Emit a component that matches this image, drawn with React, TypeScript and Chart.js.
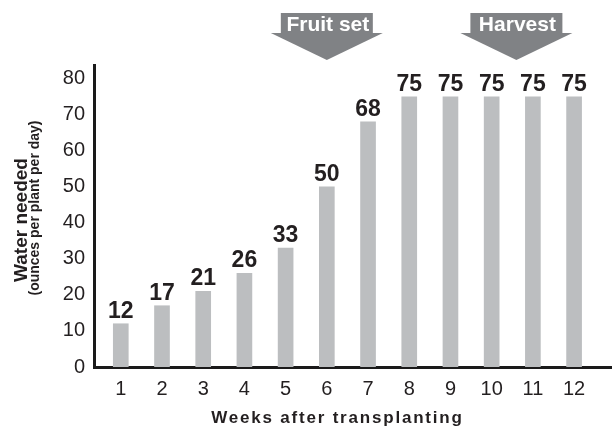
import React, { useEffect, useRef } from "react";
import { Chart, registerables } from "chart.js";

Chart.register(...registerables);

const weeks = [1, 2, 3, 4, 5, 6, 7, 8, 9, 10, 11, 12];
const water = [12, 17, 21, 26, 33, 50, 68, 75, 75, 75, 75, 75];
const yTicks = [0, 10, 20, 30, 40, 50, 60, 70, 80];
const stageLabels = ["Fruit set", "Harvest"];
const stageWeeks = [6, 10.6];

const xTitle = "Weeks after transplanting";
const yTitle = "Water needed";
const ySubTitle = "(ounces per plant per day)";

const FONT = "'Liberation Sans', Arial, Helvetica, sans-serif";
const INK = "#231f20";

export default function App() {
  const ref = useRef<HTMLCanvasElement | null>(null);

  useEffect(() => {
    const canvas = ref.current;
    if (!canvas) return;

    const overlay = {
      id: "overlay",
      afterDatasetsDraw(chart: any) {
        const ctx = chart.ctx;
        const meta = chart.getDatasetMeta(0);
        ctx.save();
        ctx.fillStyle = INK;
        ctx.font = `bold 23px ${FONT}`;
        ctx.textAlign = "center";
        ctx.textBaseline = "alphabetic";
        meta.data.forEach((el: any, i: number) => {
          ctx.fillText(String(water[i]), el.x, el.y - 6);
        });
        ctx.restore();
      },
      afterDraw(chart: any) {
        const ctx = chart.ctx;
        const xs = chart.scales.x;
        const ys = chart.scales.y;
        ctx.save();
        // stage arrows
        stageLabels.forEach((label, i) => {
          const cx = xs.getPixelForValue(stageWeeks[i]);
          ctx.fillStyle = "#808285";
          ctx.fillRect(cx - 46, 13, 92, 21);
          ctx.beginPath();
          ctx.moveTo(cx - 56, 33);
          ctx.lineTo(cx + 56, 33);
          ctx.lineTo(cx, 60);
          ctx.closePath();
          ctx.fill();
          ctx.fillStyle = "#ffffff";
          ctx.font = `bold 21px ${FONT}`;
          ctx.textAlign = "center";
          ctx.textBaseline = "alphabetic";
          ctx.fillText(label, cx + 1, 31);
        });
        // x title
        ctx.fillStyle = INK;
        ctx.font = `bold 17px ${FONT}`;
        (ctx as any).letterSpacing = "1.8px";
        ctx.textAlign = "center";
        ctx.textBaseline = "alphabetic";
        const xc = (xs.getPixelForValue(weeks[0]) + xs.getPixelForValue(weeks[weeks.length - 1])) / 2 - 10;
        ctx.fillText(xTitle, xc, 423);
        (ctx as any).letterSpacing = "0px";
        // y titles
        const yc = (ys.top + ys.bottom) / 2;
        ctx.save();
        ctx.translate(27, yc + 4);
        ctx.rotate(-Math.PI / 2);
        ctx.font = `bold 19px ${FONT}`;
        ctx.fillText(yTitle, 0, 0);
        ctx.restore();
        ctx.save();
        ctx.translate(39, yc - 8);
        ctx.rotate(-Math.PI / 2);
        ctx.font = `bold 14px ${FONT}`;
        ctx.fillText(ySubTitle, 0, 0);
        ctx.restore();
        ctx.restore();
      },
    };

    const chart = new Chart(canvas, {
      type: "bar",
      data: {
        datasets: [
          {
            data: weeks.map((w, i) => ({ x: w, y: water[i] })),
            backgroundColor: "#bcbec0",
            barThickness: 15,
          },
        ],
      },
      options: {
        animation: false,
        responsive: false,
        maintainAspectRatio: false,
        layout: { padding: { top: 65, left: 0, right: 0, bottom: 0 } },
        plugins: {
          legend: { display: false },
          tooltip: { enabled: false },
          title: { display: false },
        },
        scales: {
          x: {
            type: "linear",
            min: 0.35,
            max: 12.92,
            offset: false,
            afterBuildTicks: (scale: any) => {
              scale.ticks = weeks.map((v) => ({ value: v }));
            },
            afterFit: (scale: any) => {
              scale.height = 60;
            },
            grid: { display: false, drawTicks: false },
            border: { display: true, color: "#1a1a1a", width: 3 },
            ticks: {
              color: INK,
              font: { family: FONT, size: 20 },
              padding: 10,
              autoSkip: false,
              maxRotation: 0,
              callback: (v: any) => String(v),
            },
          },
          y: {
            min: 0,
            max: 83.8,
            afterBuildTicks: (scale: any) => {
              scale.ticks = yTicks.map((v) => ({ value: v }));
            },
            afterFit: (scale: any) => {
              scale.width = 94;
            },
            grid: { display: false, drawTicks: false },
            border: { display: true, color: "#1a1a1a", width: 3 },
            ticks: {
              color: INK,
              font: { family: FONT, size: 20 },
              padding: 9,
            },
          },
        },
      },
      plugins: [overlay],
    } as any);

    return () => chart.destroy();
  }, []);

  return (
    <div style={{ position: "absolute", left: 0, top: 0, width: 612, height: 427, background: "#fff" }}>
      <canvas ref={ref} width={612} height={427} style={{ width: 612, height: 427, display: "block" }} />
    </div>
  );
}
